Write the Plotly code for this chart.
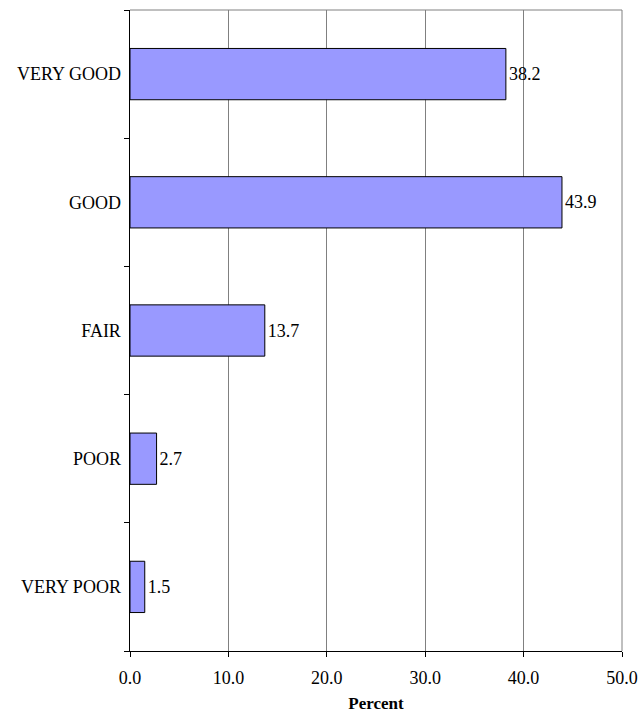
import plotly.graph_objects as go

categories = ["VERY POOR", "POOR", "FAIR", "GOOD", "VERY GOOD"]
values = [1.5, 2.7, 13.7, 43.9, 38.2]
x_ticks = [0, 10, 20, 30, 40, 50]

font = "Liberation Serif, Times New Roman, serif"
fs = 18

fig = go.Figure()
fig.add_trace(go.Bar(
    y=categories, x=values, orientation="h",
    width=0.4,
    marker=dict(color="#9999FF", line=dict(color="black", width=1)),
    text=[f"{v:.1f}" for v in values], textposition="outside",
    textfont=dict(family=font, size=fs, color="black"),
    cliponaxis=False,
))

fig.update_layout(
    width=641, height=719,
    margin=dict(l=130, r=19, t=10, b=68),
    paper_bgcolor="white", plot_bgcolor="white",
    font=dict(family=font, size=fs, color="black"),
    showlegend=False,
    bargap=0.6,
    xaxis=dict(
        range=[0, 50], tickvals=x_ticks, ticktext=[f"{t:.1f}" for t in x_ticks],
        showgrid=True, gridcolor="#808080", gridwidth=1,
        showline=True, linecolor="black", linewidth=1,
        ticks="outside", ticklen=5, tickcolor="black",
        ticklabelstandoff=5,
        zeroline=False, automargin=False,
        title=dict(text="<b>Percent</b>", font=dict(family=font, size=17), standoff=10),
    ),
    yaxis=dict(
        categoryorder="array", categoryarray=categories,
        range=[-0.5, 4.5],
        showgrid=False, showline=True, linecolor="black", linewidth=1,
        ticks="outside", ticklen=5, tickcolor="black",
        tickson="boundaries", ticksuffix=" ",
        zeroline=False, automargin=False,
    ),
    shapes=[
        dict(type="line", xref="paper", yref="paper", x0=0, x1=1, y0=1, y1=1,
             line=dict(color="#808080", width=1)),
        dict(type="line", xref="paper", yref="paper", x0=1, x1=1, y0=0, y1=1,
             line=dict(color="#808080", width=1)),
    ],
)

fig.write_html("out.html")
